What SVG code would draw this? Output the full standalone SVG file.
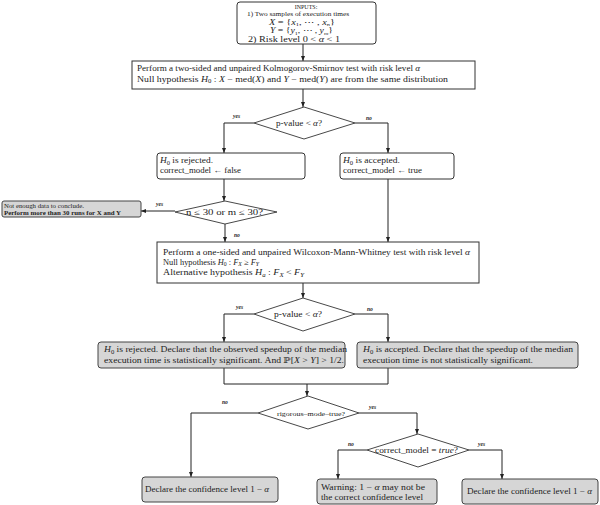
<svg xmlns="http://www.w3.org/2000/svg" width="600" height="505" viewBox="0 0 600 505">
<style>
.t{font-family:"Liberation Serif","DejaVu Serif",serif;font-size:8px;fill:#222}
.s{font-family:"Liberation Serif","DejaVu Serif",serif;font-size:6px;fill:#222}
.i{font-style:italic}
.lbl{font-family:"Liberation Serif","DejaVu Serif",serif;font-size:5.5px;font-style:italic;font-weight:bold;fill:#222}
.box{fill:#fff;stroke:#333;stroke-width:1}
.gbox{fill:#d6d6d6;stroke:#444;stroke-width:1}
.dia{fill:#fff;stroke:#333;stroke-width:0.9}
.con{fill:none;stroke:#222;stroke-width:1}
.arr{marker-end:url(#ah)}
</style>
<defs>
<marker id="ah" markerUnits="userSpaceOnUse" markerWidth="5" markerHeight="4" refX="5" refY="2" orient="auto">
<path d="M0,0 L5,2 L0,4 z" fill="#222"/>
</marker>
</defs>
<rect width="600" height="505" fill="#fff"/>

<g id="connectors">
<path class="con arr" d="M303,44 V61"/>
<path class="con arr" d="M303,89 V107"/>
<path class="con arr" d="M254,123 H224 V153"/>
<path class="con arr" d="M355,123 H388 V153"/>
<path class="con arr" d="M224,179 V201"/>
<path class="con arr" d="M175,211 H141"/>
<path class="con arr" d="M225,224 V242"/>
<path class="con arr" d="M388,179 V242"/>
<path class="con arr" d="M303,283 V298"/>
<path class="con arr" d="M254,314 H224 V342"/>
<path class="con arr" d="M355,314 H388 V342"/>
<path class="con" d="M224,368 V384 H388 V368"/>
<path class="con arr" d="M307,384 V396"/>
<path class="con arr" d="M258,413 H191 V477"/>
<path class="con arr" d="M359,413 H417 V434"/>
<path class="con arr" d="M367,450 H338 V479"/>
<path class="con arr" d="M469,450 H502 V479"/>
<text class="lbl" x="233" y="118">yes</text>
<text class="lbl" x="366" y="120">no</text>
<text class="lbl" x="156" y="206">yes</text>
<text class="lbl" x="234" y="237">no</text>
<text class="lbl" x="236" y="309">yes</text>
<text class="lbl" x="367" y="311">no</text>
<text class="lbl" x="222" y="404">no</text>
<text class="lbl" x="369" y="409">yes</text>
<text class="lbl" x="348" y="446">no</text>
<text class="lbl" x="478" y="446">yes</text>
</g>

<g id="inputs">
<rect class="box" x="237" y="2" width="139" height="42" rx="3"/>
<text class="s" x="306" y="8.5" text-anchor="middle" font-size="6.5">INPUTS:</text>
<text class="s" x="247" y="16" textLength="102" lengthAdjust="spacingAndGlyphs">1) Two samples of execution times</text>
<text class="t" x="269" y="24.5" textLength="66" lengthAdjust="spacingAndGlyphs"><tspan class="i">X</tspan> = {<tspan class="i">x</tspan><tspan font-size="5" dy="1.5">1</tspan><tspan dy="-1.5">, ⋯ , </tspan><tspan class="i">x</tspan><tspan font-size="5" dy="1.5" class="i">n</tspan><tspan dy="-1.5">}</tspan></text>
<text class="t" x="270" y="33" textLength="63" lengthAdjust="spacingAndGlyphs"><tspan class="i">Y</tspan> = {<tspan class="i">y</tspan><tspan font-size="5" dy="1.5">1</tspan><tspan dy="-1.5">, ⋯ , </tspan><tspan class="i">y</tspan><tspan font-size="5" dy="1.5" class="i">m</tspan><tspan dy="-1.5">}</tspan></text>
<text class="t" x="248" y="41.5" textLength="92" lengthAdjust="spacingAndGlyphs">2) Risk level 0 &lt; <tspan class="i">α</tspan> &lt; 1</text>
</g>

<g id="ks-test">
<rect class="box" x="132" y="61" width="343" height="28"/>
<text class="t" x="137" y="71" textLength="283" lengthAdjust="spacingAndGlyphs">Perform a two-sided and unpaired Kolmogorov-Smirnov test with risk level <tspan class="i">α</tspan></text>
<text class="t" x="137" y="81.5" textLength="311" lengthAdjust="spacingAndGlyphs">Null hypothesis <tspan class="i">H</tspan><tspan font-size="5.5" dy="1.5">0</tspan><tspan dy="-1.5"> : </tspan><tspan class="i">X</tspan> − med(<tspan class="i">X</tspan>) and <tspan class="i">Y</tspan> − med(<tspan class="i">Y</tspan>) are from the same distribution</text>
</g>

<g id="decision-ks">
<polygon class="dia" points="304,107 355,123 304,139 254,123"/>
<text class="t" x="276" y="126" textLength="46" lengthAdjust="spacingAndGlyphs">p-value &lt; <tspan class="i">α</tspan>?</text>
</g>

<g id="ks-rejected">
<rect class="box" x="157" y="153" width="148" height="26" rx="3"/>
<text class="t" x="160" y="163" textLength="53" lengthAdjust="spacingAndGlyphs"><tspan class="i">H</tspan><tspan font-size="5.5" dy="1.5">0</tspan><tspan dy="-1.5"> is rejected.</tspan></text>
<text class="t" x="160" y="172.5" textLength="81" lengthAdjust="spacingAndGlyphs">correct_model ← false</text>
</g>

<g id="ks-accepted">
<rect class="box" x="340" y="153" width="114" height="26" rx="3"/>
<text class="t" x="343" y="163" textLength="57" lengthAdjust="spacingAndGlyphs"><tspan class="i">H</tspan><tspan font-size="5.5" dy="1.5">0</tspan><tspan dy="-1.5"> is accepted.</tspan></text>
<text class="t" x="343" y="172.5" textLength="79" lengthAdjust="spacingAndGlyphs">correct_model ← true</text>
</g>

<g id="decision-size">
<polygon class="dia" points="225,201 277,212 225,224 175,212"/>
<text class="t" x="186" y="215" textLength="77" lengthAdjust="spacingAndGlyphs" font-size="7.5">n ≤ 30 or m ≤ 30?</text>
</g>

<g id="not-enough">
<rect class="gbox" x="2" y="201" width="139" height="16" rx="2"/>
<text class="s" x="4" y="207.5" textLength="80" lengthAdjust="spacingAndGlyphs">Not enough data to conclude.</text>
<text class="s" x="4" y="214.5" font-weight="bold" textLength="117" lengthAdjust="spacingAndGlyphs">Perform more than 30 runs for X and Y</text>
</g>

<g id="wmw-test">
<rect class="box" x="157" y="242" width="322" height="41"/>
<text class="t" x="163" y="254.5" textLength="307" lengthAdjust="spacingAndGlyphs">Perform a one-sided and unpaired Wilcoxon-Mann-Whitney test with risk level <tspan class="i">α</tspan></text>
<text class="t" x="163" y="264.5" textLength="96" lengthAdjust="spacingAndGlyphs">Null hypothesis <tspan class="i">H</tspan><tspan font-size="5.5" dy="1.5">0</tspan><tspan dy="-1.5"> : </tspan><tspan class="i">F</tspan><tspan font-size="5.5" dy="1.5" class="i">X</tspan><tspan dy="-1.5"> ≥ </tspan><tspan class="i">F</tspan><tspan font-size="5.5" dy="1.5" class="i">Y</tspan></text>
<text class="t" x="163" y="275" textLength="141" lengthAdjust="spacingAndGlyphs">Alternative hypothesis <tspan class="i">H</tspan><tspan font-size="5.5" dy="1.5" class="i">a</tspan><tspan dy="-1.5"> : </tspan><tspan class="i">F</tspan><tspan font-size="5.5" dy="1.5" class="i">X</tspan><tspan dy="-1.5"> &lt; </tspan><tspan class="i">F</tspan><tspan font-size="5.5" dy="1.5" class="i">Y</tspan></text>
</g>

<g id="decision-wmw">
<polygon class="dia" points="303,298 355,314 303,331 254,314"/>
<text class="t" x="274" y="317" textLength="48" lengthAdjust="spacingAndGlyphs">p-value &lt; <tspan class="i">α</tspan>?</text>
</g>

<g id="wmw-rejected">
<rect class="gbox" x="98" y="342" width="247" height="26" rx="3"/>
<text class="t" x="104" y="352" textLength="243" lengthAdjust="spacingAndGlyphs"><tspan class="i">H</tspan><tspan font-size="5.5" dy="1.5">0</tspan><tspan dy="-1.5"> is rejected. Declare that the observed speedup of the median</tspan></text>
<text class="t" x="104" y="362.5" textLength="240" lengthAdjust="spacingAndGlyphs">execution time is statistically significant.  And ℙ[<tspan class="i">X</tspan> &gt; <tspan class="i">Y</tspan>] &gt; 1/2.</text>
</g>

<g id="wmw-accepted">
<rect class="gbox" x="357" y="342" width="221" height="26" rx="3"/>
<text class="t" x="363" y="352" textLength="210" lengthAdjust="spacingAndGlyphs"><tspan class="i">H</tspan><tspan font-size="5.5" dy="1.5">0</tspan><tspan dy="-1.5"> is accepted. Declare that the speedup of the median</tspan></text>
<text class="t" x="363" y="362.5" textLength="170" lengthAdjust="spacingAndGlyphs">execution time is not statistically significant.</text>
</g>

<g id="decision-rigorous">
<polygon class="dia" points="308,396 359,413 308,429 258,413"/>
<text class="s" x="277" y="415.5" textLength="68" lengthAdjust="spacingAndGlyphs">rigorous–mode–true?</text>
</g>

<g id="decision-model">
<polygon class="dia" points="418,434 469,450 418,467 367,450"/>
<text class="t" x="375" y="453" textLength="83" lengthAdjust="spacingAndGlyphs">correct_model = <tspan class="i">true</tspan>?</text>
</g>

<g id="declare-left">
<rect class="gbox" x="142" y="477" width="136" height="25" rx="3"/>
<text class="t" x="145" y="492" textLength="124" lengthAdjust="spacingAndGlyphs">Declare the confidence level 1 − <tspan class="i">α</tspan></text>
</g>

<g id="warning">
<rect class="gbox" x="317" y="479" width="120" height="25" rx="3"/>
<text class="t" x="321" y="489.5" textLength="104" lengthAdjust="spacingAndGlyphs">Warning:  1 − <tspan class="i">α</tspan> may not be</text>
<text class="t" x="321" y="499.5" textLength="102" lengthAdjust="spacingAndGlyphs">the correct confidence level</text>
</g>

<g id="declare-right">
<rect class="gbox" x="462" y="479" width="136" height="25" rx="3"/>
<text class="t" x="467" y="494" textLength="125" lengthAdjust="spacingAndGlyphs">Declare the confidence level 1 − <tspan class="i">α</tspan></text>
</g>
</svg>
